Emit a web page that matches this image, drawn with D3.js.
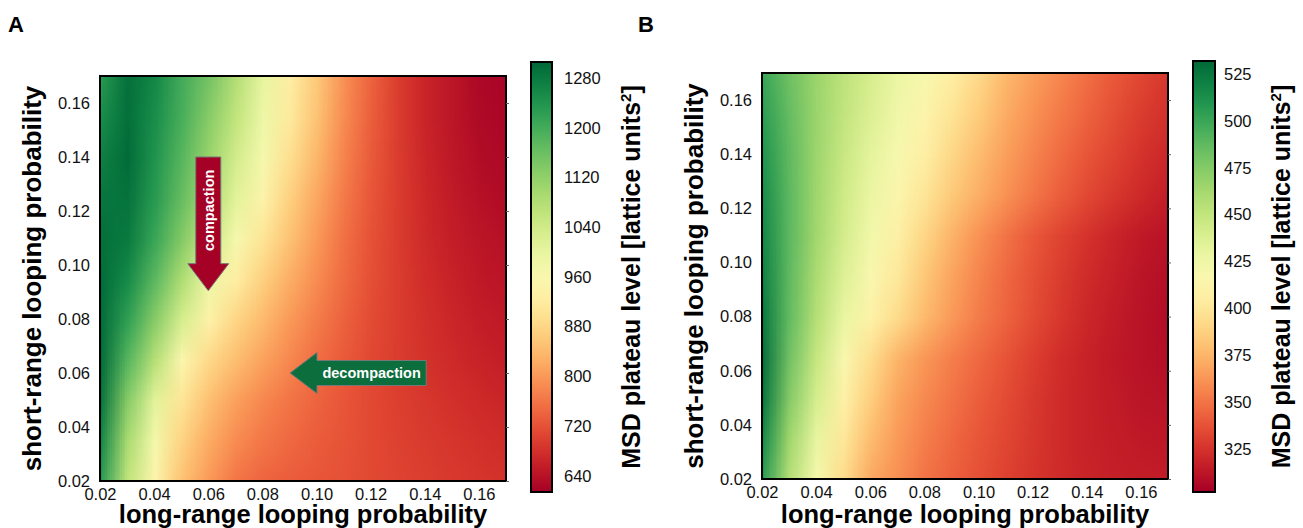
<!DOCTYPE html>
<html>
<head>
<meta charset="utf-8">
<script src="https://cdn.jsdelivr.net/npm/d3@7"></script>
<style>
  body { margin: 0; background: #fff; }
  text { font-family: "Liberation Sans", Arial, sans-serif; }
</style>
</head>
<body>
<div id="chart"></div>
<script>
// grid coordinates (cell centres)
var longRange = [0.02,0.03,0.04,0.05,0.06,0.07,0.08,0.09,0.10,0.11,0.12,0.13,0.14,0.15,0.16,0.17];
var shortRange = [0.17,0.155,0.14,0.125,0.11,0.095,0.08,0.065,0.05,0.035,0.02];
var axisTicks = [0.02,0.04,0.06,0.08,0.10,0.12,0.14,0.16];

// panel A: MSD plateau level, rows = shortRange (top to bottom), cols = longRange
var msdA = [
  [1230,1295,1260,1200,1150,1080,1000,925,860,790,740,695,665,645,625,620],
  [1250,1295,1250,1195,1130,1060,990,915,850,785,735,695,665,645,628,622],
  [1270,1300,1240,1180,1110,1035,970,895,835,775,730,695,668,648,632,625],
  [1285,1290,1230,1165,1090,1010,940,870,815,765,725,695,670,652,638,630],
  [1295,1280,1210,1135,1050,970,905,850,800,755,720,695,673,657,645,637],
  [1300,1255,1175,1085,990,925,870,825,785,748,718,695,677,662,650,643],
  [1300,1220,1130,1030,935,880,840,800,768,738,713,695,680,668,657,650],
  [1300,1180,1075,950,885,845,810,780,752,730,710,695,683,673,664,657],
  [1290,1130,1010,905,848,808,780,759,741,725,711,699,689,680,672,666],
  [1260,1090,975,875,822,785,762,746,733,722,711,702,694,687,680,675],
  [1230,1060,945,850,800,760,742,733,726,719,711,704,698,692,687,683]
];

// panel B
var msdB = [
  [500,482,466,452,440,428,419,405,392,376,366,357,348,340,333,327],
  [505,485,466,450,437,424,412,398,385,371,361,352,344,336,329,324],
  [510,487,465,447,432,419,406,391,378,366,356,347,339,332,325,320],
  [514,488,464,444,428,413,399,384,372,361,351,342,334,327,321,316],
  [517,488,463,441,423,407,390,374,361,350,340,332,325,319,314,311],
  [520,487,459,436,417,401,383,368,356,346,337,329,322,317,312,309],
  [524,486,455,429,409,393,377,364,353,344,335,327,320,315,311,308],
  [528,481,448,416,394,375,363,354,346,338,330,323,318,314,311,309],
  [525,474,440,408,386,368,358,350,342,335,328,322,318,315,312,311],
  [515,464,430,400,378,364,354,346,339,333,327,322,318,316,314,313],
  [505,455,420,393,370,360,350,343,337,331,326,322,319,317,316,315]
];

var colorDomainA = [614, 1306];
var colorDomainB = [302, 532];
var colorTicksA = [640,720,800,880,960,1040,1120,1200,1280];
var colorTicksB = [325,350,375,400,425,450,475,500,525];

// annotation arrows in data units (panel A)
var arrowsA = [
  {label: 'compaction', from: [0.06, 0.14], to: [0.06, 0.0905], fill: '#a50026'},
  {label: 'decompaction', from: [0.1405, 0.06], to: [0.0902, 0.06], fill: '#0b6e3c'}
];

var font = '"Liberation Sans", Arial, sans-serif';

var svg = d3.select('#chart')
  .append('svg')
    .attr('width', 1303)
    .attr('height', 528);

svg.append('rect').attr('width', 1303).attr('height', 528).attr('fill', '#fff');

function styleTicks(g) {
  g.select('.domain').remove();
  g.selectAll('text').attr('font-size', 16.5).attr('fill', '#111').style('font-family', font);
}

function panel(opt) {
  var x = d3.scaleLinear().domain([0.02, 0.17]).range([opt.left, opt.right]);
  var y = d3.scaleLinear().domain([0.02, 0.17]).range([opt.bottom, opt.top]);
  var color = d3.scaleSequential(d3.interpolateRdYlGn).domain(opt.cdomain);

  // heatmap: one pixel per grid cell, smoothed by the browser when scaled
  var nx = longRange.length, ny = shortRange.length;
  var cv = document.createElement('canvas');
  cv.width = nx; cv.height = ny;
  var ctx = cv.getContext('2d');
  opt.data.forEach(function(row, j) {
    row.forEach(function(v, i) {
      ctx.fillStyle = color(v);
      ctx.fillRect(i, j, 1, 1);
    });
  });
  var dx = 0.01, dy = 0.015;

  svg.append('clipPath').attr('id', 'clip' + opt.id)
    .append('rect')
      .attr('x', opt.left).attr('y', opt.top)
      .attr('width', opt.right - opt.left).attr('height', opt.bottom - opt.top);

  svg.append('image')
    .attr('href', cv.toDataURL())
    .attr('x', x(longRange[0] - dx / 2))
    .attr('y', y(shortRange[0] + dy / 2))
    .attr('width', x(longRange[nx - 1] + dx / 2) - x(longRange[0] - dx / 2))
    .attr('height', y(shortRange[ny - 1] - dy / 2) - y(shortRange[0] + dy / 2))
    .attr('preserveAspectRatio', 'none')
    .attr('clip-path', 'url(#clip' + opt.id + ')');

  // frame
  svg.append('rect')
    .attr('x', opt.left).attr('y', opt.top)
    .attr('width', opt.right - opt.left).attr('height', opt.bottom - opt.top)
    .attr('fill', 'none').attr('stroke', '#000').attr('stroke-width', 2);

  // small ticks on the right edge
  svg.append('g')
    .attr('transform', 'translate(' + opt.right + ',0)')
    .call(d3.axisRight(y).tickValues(axisTicks).tickSize(3).tickFormat(''))
    .call(function(g) { g.select('.domain').remove(); g.selectAll('line').attr('stroke', '#666'); });

  svg.append('g')
    .attr('transform', 'translate(0,' + opt.bottom + ')')
    .call(d3.axisBottom(x).tickValues(axisTicks).tickSize(0).tickPadding(7).tickFormat(d3.format('.2f')))
    .call(styleTicks);

  svg.append('g')
    .attr('transform', 'translate(' + opt.left + ',0)')
    .call(d3.axisLeft(y).tickValues(axisTicks).tickSize(0).tickPadding(10).tickFormat(d3.format('.2f')))
    .call(styleTicks);

  svg.append('text')
    .attr('x', (opt.left + opt.right) / 2).attr('y', 523)
    .attr('text-anchor', 'middle')
    .attr('font-size', 25.5).attr('font-weight', 'bold')
    .text('long-range looping probability');

  svg.append('text')
    .attr('transform', 'translate(' + (opt.left - 59) + ',' + ((opt.top + opt.bottom) / 2) + ') rotate(-90)')
    .attr('text-anchor', 'middle')
    .attr('font-size', 26).attr('font-weight', 'bold')
    .text('short-range looping probability');

  svg.append('text')
    .attr('x', opt.letterX).attr('y', 32)
    .attr('font-size', 22).attr('font-weight', 'bold')
    .text(opt.id);

  // colour bar
  var cb = opt.cbar;
  var cy = d3.scaleLinear().domain(opt.cdomain).range([cb.bottom, cb.top]);
  var grad = svg.append('defs').append('linearGradient')
    .attr('id', 'grad' + opt.id)
    .attr('x1', 0).attr('y1', 1).attr('x2', 0).attr('y2', 0);
  d3.range(0, 1.0001, 0.05).forEach(function(t) {
    grad.append('stop')
      .attr('offset', t)
      .attr('stop-color', color(opt.cdomain[0] + t * (opt.cdomain[1] - opt.cdomain[0])));
  });
  svg.append('rect')
    .attr('x', cb.left).attr('y', cb.top)
    .attr('width', cb.right - cb.left).attr('height', cb.bottom - cb.top)
    .attr('fill', 'url(#grad' + opt.id + ')')
    .attr('stroke', '#000').attr('stroke-width', 2);

  svg.append('g')
    .attr('transform', 'translate(' + cb.right + ',0)')
    .call(d3.axisRight(cy).tickValues(opt.cticks).tickSize(0).tickPadding(cb.pad).tickFormat(d3.format('d')))
    .call(styleTicks);

  var lab = svg.append('text')
    .attr('transform', 'translate(' + cb.labelX + ',' + ((cb.top + cb.bottom) / 2) + ') rotate(-90)')
    .attr('text-anchor', 'middle')
    .attr('font-size', 25).attr('font-weight', 'bold');
  lab.append('tspan').text('MSD plateau level [lattice units');
  lab.append('tspan').attr('font-size', 15).attr('dy', -9).text('2');
  lab.append('tspan').attr('dy', 9).text(']');

  return {x: x, y: y};
}

var pA = panel({
  id: 'A', letterX: 8, left: 100, right: 506, top: 76, bottom: 481,
  data: msdA, cdomain: colorDomainA, cticks: colorTicksA,
  cbar: {left: 531, right: 552, top: 62, bottom: 492, pad: 12, labelX: 640}
});

panel({
  id: 'B', letterX: 638, left: 762, right: 1168, top: 73, bottom: 479,
  data: msdB, cdomain: colorDomainB, cticks: colorTicksB,
  cbar: {left: 1193, right: 1215, top: 61, bottom: 492, pad: 9, labelX: 1290}
});

// arrows on panel A
arrowsA.forEach(function(a) {
  var x0 = pA.x(a.from[0]), y0 = pA.y(a.from[1]);
  var x1 = pA.x(a.to[0]), y1 = pA.y(a.to[1]);
  var len = Math.hypot(x1 - x0, y1 - y0);
  var ang = Math.atan2(y1 - y0, x1 - x0) * 180 / Math.PI;
  var sw = 12.5, hw = 20.5, hl = 27;
  var pts = [[0, -sw], [len - hl, -sw], [len - hl, -hw], [len, 0], [len - hl, hw], [len - hl, sw], [0, sw]];
  var g = svg.append('g')
    .attr('transform', 'translate(' + x0 + ',' + y0 + ') rotate(' + ang + ')');
  g.append('polygon')
    .attr('points', pts.map(function(p) { return p.join(','); }).join(' '))
    .attr('fill', a.fill)
    .attr('stroke', '#777').attr('stroke-width', 1);
  // keep the label readable: flip it for arrows pointing down or left
  var flip = Math.abs(ang) >= 89;
  g.append('text')
    .attr('transform', 'translate(' + ((len - hl) / 2) + ',0)' + (flip ? ' rotate(180)' : ''))
    .attr('text-anchor', 'middle')
    .attr('dy', '0.36em')
    .attr('font-size', 14.5).attr('font-weight', 'bold')
    .attr('fill', '#fff')
    .text(a.label);
});
</script>
</body>
</html>
